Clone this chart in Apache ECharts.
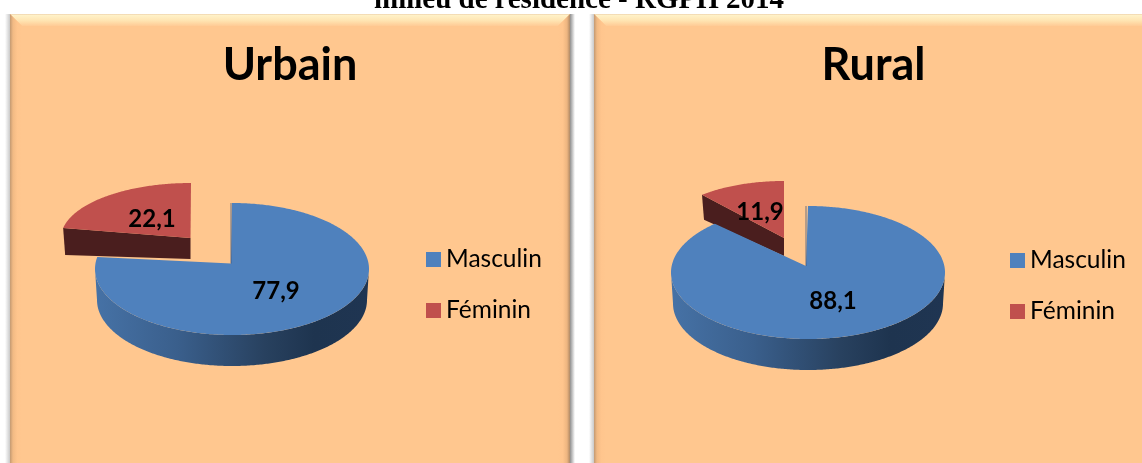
<!DOCTYPE html>
<html>
<head>
<meta charset="utf-8">
<style>html,body{margin:0;padding:0;background:#fff;overflow:hidden}#c{width:1142px;height:463px}</style>
<script src="https://cdn.jsdelivr.net/npm/echarts@6/dist/echarts.min.js"></script>
</head>
<body>
<div id="c"></div>
<script>
const categories = ['Masculin', 'Féminin'];
const urbanValues = [77.9, 22.1];
const ruralValues = [88.1, 11.9];
const urbanLabel = ['77,9', '22,1'];
const ruralLabel = ['88,1', '11,9'];
const panelTitles = ['Urbain', 'Rural'];
const headerText = 'milieu de résidence - RGPH 2014';

const FACE = '#FFC78F', BLUE = '#4F81BD', RED = '#C0504D', WALL = '#4A1E1E';
const BLUE_SIDE = {
  type: 'linear', x: 0, y: 0, x2: 1, y2: 0,
  colorStops: [
    { offset: 0, color: '#4672A6' }, { offset: 0.3, color: '#3A5F8C' },
    { offset: 0.62, color: '#28415F' }, { offset: 0.8, color: '#1E344F' }, { offset: 1, color: '#1F3552' }
  ]
};

// Ellipse geometry of each slice. The angular spans come from the values.
const urbanGeo = [
  { cx: 232, cy: 269, rx: 137, ry: 66, bottomOffset: 31, apexX: 231, apexY: 263.5, depth: 30, shrink: 2 },
  { cx: 191, cy: 238, rx: 130, ry: 55, apexX: 190.5, apexY: 238, depth: 21, rimDepth: 27, shrink: 0 }
];
const ruralGeo = [
  { cx: 808, cy: 272.5, rx: 137, ry: 66.5, bottomOffset: 31, apexX: 806, apexY: 266, depth: 30, shrink: 2 },
  { cx: 784, cy: 233, rx: 120.6, ry: 52, apexX: 784, apexY: 238, depth: 18, rimDepth: 25, shrink: 0 }
];
const urbanLabelPos = [[276, 291], [152, 219]];
const ruralLabelPos = [[833, 301], [760, 212]];

function rim(g, deg, dy, shrink) {
  const t = deg * Math.PI / 180;
  const rx = g.rx - (shrink || 0);
  return [g.cx + rx * Math.sin(t), g.cy + (dy || 0) - g.ry * Math.cos(t)];
}
function arc(g, a0, a1, dy, shrink) {
  const pts = [], n = Math.max(2, Math.ceil(Math.abs(a1 - a0) * 1.5));
  for (let i = 0; i <= n; i++) pts.push(rim(g, a0 + (a1 - a0) * i / n, dy, shrink));
  return pts;
}
function sliceSeries(name, idx, values, geo, labels, labelPos, color) {
  const total = values.reduce((a, b) => a + b, 0);
  return {
    type: 'custom',
    name: name,
    coordinateSystem: 'none',
    silent: true,
    itemStyle: { color: color },
    data: [[values[idx], idx]],
    z: idx === 0 ? 4 : 3,
    renderItem: function (params, api) {
      const v = api.value(0);
      const before = values.slice(0, idx).reduce((a, b) => a + b, 0);
      const a0 = before / total * 360;
      const a1 = a0 + v / total * 360;
      const g = geo[idx];
      const kids = [];
      if (idx === 1) {
        const p = rim(g, a0);
        const q = rim(g, a0, g.rimDepth);
        kids.push({
          type: 'polygon',
          shape: { points: [p, [g.apexX, g.apexY], [g.apexX, g.apexY + g.depth], [q[0] + 2, q[1]]] },
          style: { fill: WALL }
        });
      } else {
        const s0 = Math.max(a0, 90), s1 = Math.min(a1, 270);
        kids.push({
          type: 'polygon',
          shape: { points: arc(g, s0, s1, 0).concat(arc(g, s1, s0, g.bottomOffset, g.shrink)) },
          style: { fill: BLUE_SIDE }
        });
      }
      kids.push({
        type: 'polygon',
        shape: { points: [[g.apexX, g.apexY]].concat(arc(g, a0, a1, 0)) },
        style: { fill: color }
      });
      if (idx === 0) {
        const e = rim(g, a0);
        kids.push({
          type: 'line',
          shape: { x1: g.apexX, y1: g.apexY, x2: e[0] - (g.cx - g.apexX), y2: e[1] },
          style: { stroke: '#2F4F7A', lineWidth: 1, opacity: 0.7 }
        });
      }
      kids.push({
        type: 'text',
        z2: 10,
        style: {
          text: labels[idx], x: labelPos[idx][0], y: labelPos[idx][1],
          align: 'center', verticalAlign: 'middle',
          font: 'bold 24px Lato', fill: '#000'
        }
      });
      return { type: 'group', children: kids };
    }
  };
}
function panel(x0, x1, y0, y1) {
  const b = 12;
  return [
    { type: 'rect', shape: { x: x0 - 5, y: y0, width: 5, height: y1 - y0 },
      style: { fill: { type: 'linear', x: 0, y: 0, x2: 1, y2: 0, colorStops: [{ offset: 0, color: '#FFFFFF' }, { offset: 1, color: '#C9C9C9' }] } } },
    { type: 'rect', shape: { x: x1, y: y0, width: 5, height: y1 - y0 },
      style: { fill: { type: 'linear', x: 0, y: 0, x2: 1, y2: 0, colorStops: [{ offset: 0, color: '#8F8F8F' }, { offset: 1, color: '#FFFFFF' }] } } },
    { type: 'rect', shape: { x: x0, y: y0, width: x1 - x0, height: y1 - y0 }, style: { fill: FACE } },
    { type: 'polygon', shape: { points: [[x0, y0], [x1, y0], [x1 - b, y0 + b], [x0 + b, y0 + b]] },
      style: { fill: { type: 'linear', x: 0, y: 0, x2: 0, y2: 1, colorStops: [{ offset: 0, color: '#EBCDA8' }, { offset: 0.1, color: '#FFF2C8' }, { offset: 0.55, color: '#FFE4B2' }, { offset: 1, color: '#FFCB95' }] } } },
    { type: 'polygon', shape: { points: [[x0, y0], [x0 + b, y0 + b], [x0 + b, y1 - b], [x0, y1]] },
      style: { fill: { type: 'linear', x: 0, y: 0, x2: 1, y2: 0, colorStops: [{ offset: 0, color: '#C49A72' }, { offset: 0.25, color: '#F2BA84' }, { offset: 0.6, color: '#FFC58D' }, { offset: 1, color: FACE }] } } },
    { type: 'polygon', shape: { points: [[x1, y0], [x1 - b, y0 + b], [x1 - b, y1 - b], [x1, y1]] },
      style: { fill: { type: 'linear', x: 1, y: 0, x2: 0, y2: 0, colorStops: [{ offset: 0, color: '#B08A66' }, { offset: 0.25, color: '#EDB580' }, { offset: 0.6, color: '#FFC58D' }, { offset: 1, color: FACE }] } } }
  ];
}

const legendBase = {
  orient: 'vertical', selectedMode: false, icon: 'rect',
  itemWidth: 15, itemHeight: 15, itemGap: 26, data: categories,
  textStyle: { fontFamily: 'Lato', fontSize: 24.5, color: '#000', padding: [0, 0, 0, 0] }
};
const titleBase = { textStyle: { fontFamily: 'Lato', fontWeight: 'bold', fontSize: 45, color: '#000' }, textAlign: 'center' };

const option = {
  animation: false,
  backgroundColor: '#fff',
  title: [
    Object.assign({ text: panelTitles[0], left: 285, top: 38 }, titleBase),
    Object.assign({ text: panelTitles[1], left: 868.5, top: 38 }, titleBase),
    { text: headerText, left: 574, top: -19, textAlign: 'center',
      textStyle: { fontFamily: 'Liberation Serif', fontWeight: 'bold', fontSize: 29, color: '#000' } }
  ],
  legend: [
    Object.assign({ left: 421, top: 242 }, legendBase),
    Object.assign({ left: 1005, top: 243 }, legendBase)
  ],
  graphic: { elements: panel(10, 570, 14, 475).concat(panel(594, 1160, 14, 475)) },
  series: [
    sliceSeries(categories[1], 1, urbanValues, urbanGeo, urbanLabel, urbanLabelPos, RED),
    sliceSeries(categories[0], 0, urbanValues, urbanGeo, urbanLabel, urbanLabelPos, BLUE),
    sliceSeries(categories[1], 1, ruralValues, ruralGeo, ruralLabel, ruralLabelPos, RED),
    sliceSeries(categories[0], 0, ruralValues, ruralGeo, ruralLabel, ruralLabelPos, BLUE)
  ]
};
const chart = echarts.init(document.getElementById('c'), null, { renderer: 'canvas' });
chart.setOption(option);
</script>
</body>
</html>
